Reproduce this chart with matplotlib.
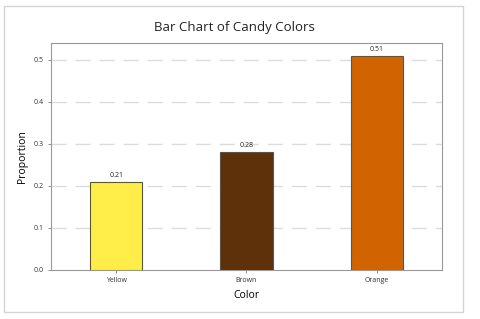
import matplotlib
matplotlib.use("Agg")
import matplotlib.pyplot as plt
from matplotlib.patches import Rectangle

plt.rcParams["font.family"] = ["Open Sans", "DejaVu Sans"]

categories = ["Yellow", "Brown", "Orange"]
proportions = [0.21, 0.28, 0.51]
bar_colors = ["#FFED4A", "#5E310B", "#D26400"]
yticks = [0.0, 0.1, 0.2, 0.3, 0.4, 0.5]

W, H = 480, 319
fig = plt.figure(figsize=(4.8, 3.19), dpi=100)
fig.patches.append(Rectangle((4 / W, 1 - 312 / H), (463 - 4) / W, (312 - 6) / H,
                             transform=fig.transFigure, fill=False,
                             edgecolor="#d4d4d4", linewidth=1.0))

ax = fig.add_axes([51 / W, 1 - 270 / H, (442 - 51) / W, (270 - 43) / H])
x = list(range(len(categories)))
ax.bar(x, proportions, width=0.4, color=bar_colors, edgecolor="#555555",
       linewidth=0.8, zorder=3)
for xi, v in zip(x, proportions):
    ax.text(xi, v + 0.007, f"{v:.2f}", ha="center", va="bottom", fontsize=5,
            color="#222222")

ax.set_xlim(-0.5, 2.5)
ax.set_ylim(0, 0.54)
ax.set_yticks(yticks)
ax.set_yticklabels([f"{t:.1f}" for t in yticks])
ax.set_xticks(x)
ax.set_xticklabels(categories)
ax.tick_params(axis="both", labelsize=5, length=2, width=0.6, color="#777777",
               labelcolor="#333333", pad=3)
for t in yticks[1:]:
    ax.axhline(t, color="#dcdcdc", linewidth=1.0, linestyle=(0, (10.8, 6.5)), zorder=1)
for s in ax.spines.values():
    s.set_color("#999999")
    s.set_linewidth(0.8)

ax.set_xlabel("Color", fontsize=7.5, labelpad=4)
ax.set_ylabel("Proportion", fontsize=7.5, labelpad=4)
fig.text(234 / W, 1 - 28 / H, "Bar Chart of Candy Colors",
         ha="center", va="center", fontsize=9.5, color="#222222")

fig.savefig("out.png", dpi=100)
